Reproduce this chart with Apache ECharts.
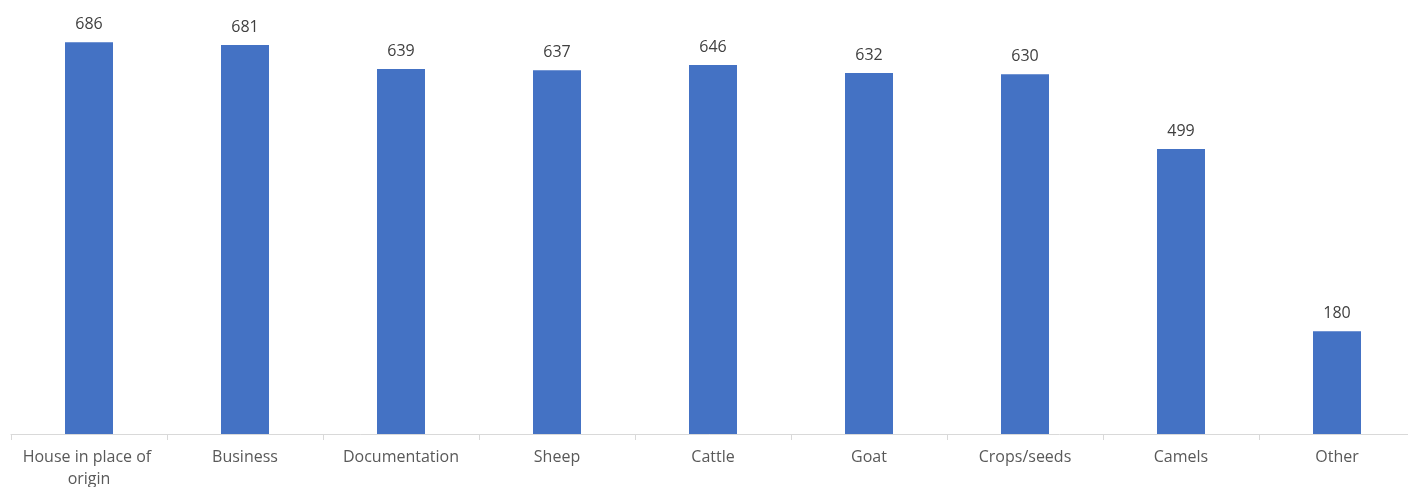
<!DOCTYPE html>
<html>
<head>
<meta charset="utf-8">
<script src="https://cdn.jsdelivr.net/npm/echarts@6/dist/echarts.min.js"></script>
<style>
  html, body { margin: 0; padding: 0; background: #fff; }
  #main { width: 1408px; height: 487px; }
</style>
</head>
<body>
<div id="main"></div>
<script>
var categories = ['House in place of origin', 'Business', 'Documentation', 'Sheep', 'Cattle', 'Goat', 'Crops/seeds', 'Camels', 'Other'];
var counts = [686, 681, 639, 637, 646, 632, 630, 499, 180];

var chart = echarts.init(document.getElementById('main'));

var option = {
    animation: false,
    grid: { left: 11, top: 0, right: -7, bottom: 53, containLabel: false, outerBoundsMode: 'none' },
    xAxis: {
        type: 'category',
        data: categories,
        axisLine: { lineStyle: { color: '#d9d9d9', width: 1 } },
        axisTick: { show: true, length: 6, lineStyle: { color: '#d9d9d9' } },
        axisLabel: {
            interval: 0,
            margin: 12,
            color: '#595959',
            fontSize: 16,
            lineHeight: 22,
            fontFamily: 'Open Sans, sans-serif',
            width: 150,
            overflow: 'break'
        }
    },
    yAxis: {
        type: 'value',
        min: 0,
        max: 760,
        show: false,
        splitLine: { show: false }
    },
    series: [
        {
            name: 'Count',
            type: 'bar',
            data: counts,
            barWidth: 48,
            itemStyle: { color: '#4472c4' },
            label: {
                show: true,
                position: 'top',
                distance: 10,
                color: '#404040',
                fontSize: 16,
                fontFamily: 'Open Sans, sans-serif'
            }
        }
    ]
};
chart.setOption(option);
</script>
</body>
</html>
